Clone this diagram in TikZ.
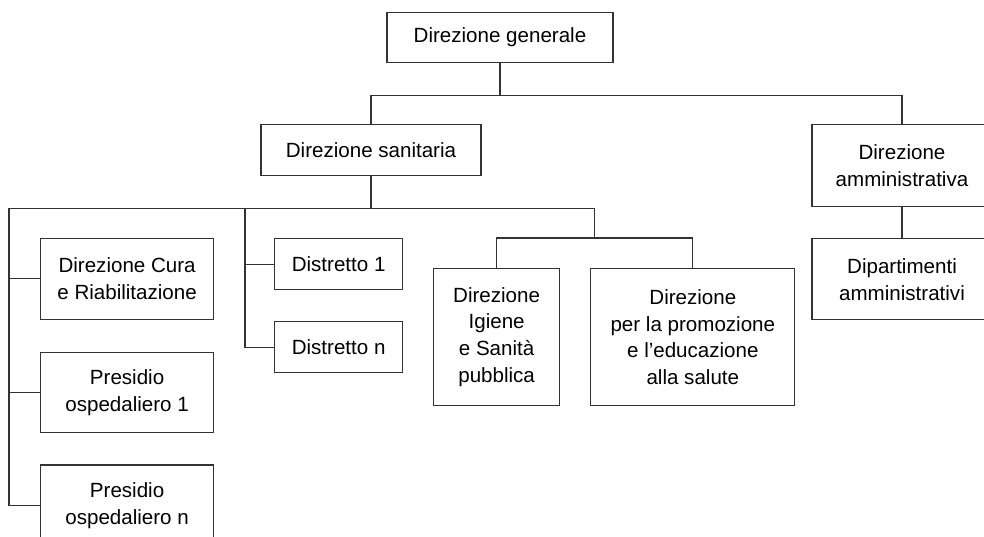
\documentclass[tikz,border=0pt]{standalone}
\usepackage{fontspec}
\setmainfont{Liberation Sans}
\usepackage{tikz}
\usetikzlibrary{calc,positioning}
\definecolor{orgline}{HTML}{333333}

\begin{document}
\begin{tikzpicture}[
  unit/.style={draw=orgline,line width=0.7pt,align=center,inner sep=0pt,
               font=\fontsize{11.7}{15.3}\selectfont},
  wide/.style={unit,minimum width=3.46cm,minimum height=1.61cm},
  flat/.style={unit,minimum width=2.56cm,minimum height=1.02cm},
  tall/.style={unit,minimum height=2.74cm},
  link/.style={draw=orgline,line width=0.7pt}
]
  \useasboundingbox (0,0) rectangle (19.68,-10.74);
  \clip (0,0) rectangle (19.68,-10.74);

  \node[unit,minimum width=4.52cm,minimum height=1.0cm,anchor=north] (gen) at (10.00,-0.24) {Direzione generale};
  \node[unit,minimum width=4.40cm,minimum height=1.02cm,anchor=north] (san) at (7.42,-2.48) {Direzione sanitaria};
  \node[unit,minimum width=3.60cm,minimum height=1.64cm,anchor=north] (amm) at (18.04,-2.48) {Direzione\\amministrativa};
  \node[unit,minimum width=3.60cm,minimum height=1.62cm,below=0.62cm of amm] (dip) {Dipartimenti\\amministrativi};

  \node[wide,anchor=north west] (cura) at (0.80,-4.76) {Direzione Cura\\e Riabilitazione};
  \node[wide,below=0.64cm of cura] (pres1) {Presidio\\ospedaliero 1};
  \node[wide,below=0.62cm of pres1] (presn) {Presidio\\ospedaliero n};

  \node[flat,anchor=north west] (dist1) at (5.48,-4.76) {Distretto 1};
  \node[flat,below=0.62cm of dist1] (distn) {Distretto n};

  \node[tall,minimum width=2.52cm,anchor=north west] (igi) at (8.66,-5.36) {Direzione\\Igiene\\e Sanità\\pubblica};
  \node[tall,minimum width=4.08cm,right=0.60cm of igi] (pro) {Direzione\\per la promozione\\e l’educazione\\alla salute};

  % top level
  \draw[link] (gen.south) -- ++(0,-0.64) coordinate (genbus);
  \draw[link] (san.north) |- (genbus) -| (amm.north);
  \draw[link] (amm) -- (dip);

  % sanitaria branches
  \draw[link] (san.south) -- ++(0,-0.64) coordinate (sanbus);
  \draw[link] (presn.west) -- ++(-0.62,0) |- (sanbus);
  \draw[link] (cura.west) -- ++(-0.62,0);
  \draw[link] (pres1.west) -- ++(-0.62,0);
  \draw[link] (distn.west) -- ++(-0.58,0) |- (sanbus);
  \draw[link] (dist1.west) -- ++(-0.58,0);
  \coordinate (igibus) at ($(igi.north)!.5!(pro.north)+(0,0.6)$);
  \draw[link] (sanbus) -| (igibus);
  \draw[link] (igi.north) |- (igibus) -| (pro.north);
\end{tikzpicture}
\end{document}
